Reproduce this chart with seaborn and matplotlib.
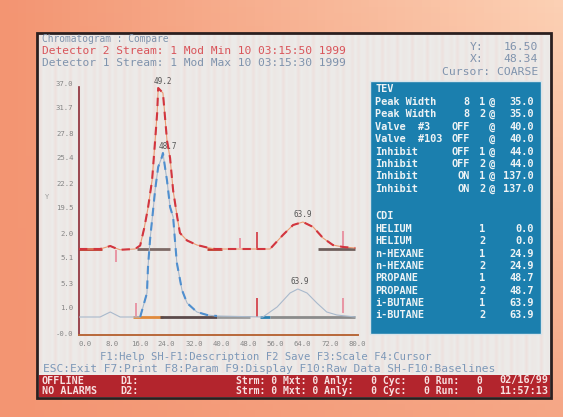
import numpy as np
import matplotlib
matplotlib.use("Agg")
from matplotlib import pyplot as plt
from matplotlib.patches import Rectangle
import seaborn as sns

W, H = 563, 417
mono = "DejaVu Sans Mono"

# detector 2 (upper, red) trace, x in minutes, y in screen units
det2_x = [-1.8, 4.4, 5.9, 7.4, 8.8, 10.3, 14.7, 16.2, 17.4, 18.5, 19.7, 20.6, 21.2, 21.5,
          22.9, 24.1, 25.0, 25.9, 27.1, 27.9, 30.0, 32.9, 35.9, 38.2, 54.4, 58.2, 61.2,
          64.1, 67.1, 70.0, 72.9, 75.9, 79.5]
det2_y = [3.36, 3.36, 3.42, 3.48, 3.40, 3.33, 3.36, 3.50, 4.20, 5.00, 6.10, 7.70, 8.80, 9.80,
          9.60, 7.70, 7.00, 5.70, 4.64, 4.00, 3.70, 3.52, 3.42, 3.36, 3.36, 3.92, 4.32,
          4.44, 4.24, 3.80, 3.52, 3.44, 3.40]

# detector 1 (lower, blue) trace
det1_x = [-1.8, 4.4, 7.4, 10.3, 16.2, 18.2, 18.5, 19.1, 19.7, 20.6, 21.5, 22.6, 22.9, 23.5,
          24.1, 25.0, 25.9, 26.5, 27.0, 28.5, 30.0, 32.9, 35.9, 38.8, 52.3, 56.5, 60.3,
          62.6, 65.3, 68.2, 71.1, 74.1, 79.5]
det1_y = [0.64, 0.64, 0.84, 0.64, 0.64, 1.60, 2.64, 3.72, 4.52, 5.72, 6.64, 7.04, 7.20, 6.64,
          6.10, 5.04, 4.64, 3.60, 2.80, 1.72, 1.20, 0.84, 0.72, 0.68, 0.64, 1.04, 1.60,
          1.76, 1.60, 1.20, 0.84, 0.72, 0.64]

# peak labels
peak_lbl = ["49.2", "48.7", "63.9", "63.9"]
peak_lx = [22.9, 24.4, 64.1, 63.2]
peak_ly = [10.05, 7.45, 4.75, 2.05]

# integration baselines
seg_x0 = [-1.8, 15.3, 35.9, 68.5, 14.1, 22.1, 38.8, 51.5, 54.4]
seg_x1 = [5.0, 25.0, 40.3, 79.4, 22.9, 38.8, 48.5, 54.4, 79.4]
seg_y = [3.36, 3.36, 3.36, 3.36, 0.64, 0.64, 0.64, 0.64, 0.64]
seg_col = ["#c0392b", "#7d6a66", "#c0392b", "#6f5f5c", "#e08a3c", "#5b4a4a", "#9a9a9a",
           "#2a7fb0", "#8b8b8b"]

# peak start / stop markers
mark_x = [9.1, 15.0, 45.6, 50.6, 50.6, 75.9, 75.9]
mark_y0 = [2.84, 0.64, 3.40, 3.32, 0.64, 3.44, 0.80]
mark_y1 = [3.32, 1.20, 3.80, 4.04, 1.40, 4.10, 1.40]
mark_col = ["#e8889a", "#e8889a", "#e8889a", "#d2353f", "#d2353f", "#e8889a", "#e8889a"]

x_ticks = [0, 8, 16, 24, 32, 40, 48, 56, 64, 72, 80]
x_labels = ["0.0", "8.0", "16.0", "24.0", "32.0", "40.0", "48.0", "56.0", "64.0", "72.0", "80.0"]
y_ticks = list(range(11))
y_labels = ["-0.0", "1.0", "5.3", "5.1", "2.0", "19.5", "22.2", "25.4", "27.8", "31.7", "37.0"]

# TEV table
tev_name = ["Peak Width", "Peak Width", "Valve  #3", "Valve  #103", "Inhibit", "Inhibit",
            "Inhibit", "Inhibit"]
tev_state = ["8", "8", "OFF", "OFF", "OFF", "OFF", "ON", "ON"]
tev_strm = ["1", "2", "", "", "1", "2", "1", "2"]
tev_val = ["35.0", "35.0", "40.0", "40.0", "44.0", "44.0", "137.0", "137.0"]

# CDI table
cdi_name = ["HELIUM", "HELIUM", "n-HEXANE", "n-HEXANE", "PROPANE", "PROPANE",
            "i-BUTANE", "i-BUTANE"]
cdi_strm = ["1", "2", "1", "2", "1", "2", "1", "2"]
cdi_val = ["0.0", "0.0", "24.9", "24.9", "48.7", "48.7", "63.9", "63.9"]

sns.set_theme(style="white")
plt.rcParams["font.family"] = [mono, "DejaVu Sans"]

fig = plt.figure(figsize=(W / 100, H / 100), dpi=100)
fig.patch.set_facecolor("#f6a07c")

# screen canvas in pixel units
scr = fig.add_axes([0, 0, 1, 1])
scr.set_xlim(0, W)
scr.set_ylim(H, 0)
scr.axis("off")
grad = np.linspace(0, 1, 64)[None, :] * np.linspace(0.3, 1, 64)[:, None][::-1]
scr.imshow(grad, extent=[0, W, H, 0], cmap=sns.blend_palette(["#f39572", "#fcd0b4"], as_cmap=True),
           aspect="auto", zorder=0)
scr.add_patch(Rectangle((37, 33), 514, 365, fc="#ecebe9", ec="#2b1f1f", lw=2.0, zorder=1))
# faint vertical scan stripes of the photographed screen
stripes = (np.cos(np.arange(170) * 1.9) ** 6)[None, :]
scr.imshow(stripes, extent=[39, 549, 373, 35], aspect="auto", alpha=0.25, zorder=1.2,
           cmap=sns.blend_palette(["#ecebe9", "#f4c6c0"], as_cmap=True))

# header
hc = "#7f93ad"
scr.text(42, 39, "Chromatogram : Compare", color=hc, fontsize=6.9, va="center", zorder=3)
scr.text(42, 50.5, "Detector 2 Stream: 1 Mod Min 10 03:15:50 1999", color="#d9545a",
         fontsize=8.1, va="center", zorder=3)
scr.text(42, 62.5, "Detector 1 Stream: 1 Mod Max 10 03:15:30 1999", color=hc, fontsize=8.1,
         va="center", zorder=3)
scr.text(470, 47, "Y:", color=hc, fontsize=8.2, va="center", zorder=3)
scr.text(538, 47, "16.50", color=hc, fontsize=8.2, va="center", ha="right", zorder=3)
scr.text(470, 59, "X:", color=hc, fontsize=8.2, va="center", zorder=3)
scr.text(538, 59, "48.34", color=hc, fontsize=8.2, va="center", ha="right", zorder=3)
scr.text(538, 72, "Cursor: COARSE", color=hc, fontsize=8.2, va="center", ha="right", zorder=3)

# right table panel
scr.add_patch(Rectangle((370, 81), 171, 253, fc="#1b7fae", ec="#d8e4ea", lw=1.0, zorder=2))
tc = "#eef3f5"
kw = dict(color=tc, fontsize=7.4, fontweight="bold", va="center", zorder=3)
scr.text(375, 89, "TEV", **kw)
for i in range(len(tev_name)):
    yy = 102 + i * 12.4
    scr.text(375, yy, tev_name[i], **kw)
    scr.text(470, yy, tev_state[i], ha="right", **kw)
    scr.text(479, yy, tev_strm[i], **kw)
    scr.text(489, yy, "@", **kw)
    scr.text(534, yy, tev_val[i], ha="right", **kw)
scr.text(375, 216, "CDI", **kw)
for i in range(len(cdi_name)):
    yy = 229 + i * 12.3
    scr.text(375, yy, cdi_name[i], **kw)
    scr.text(479, yy, cdi_strm[i], **kw)
    scr.text(534, yy, cdi_val[i], ha="right", **kw)

# function keys and status bar
fc_ = "#7d98b8"
scr.text(100, 357, "F1:Help SH-F1:Description F2 Save F3:Scale F4:Cursor", color=fc_,
         fontsize=7.6, va="center", zorder=3)
scr.text(43, 369.5, "ESC:Exit F7:Print F8:Param F9:Display F10:Raw Data SH-F10:Baselines",
         color=fc_, fontsize=8.1, va="center", zorder=3)
scr.add_patch(Rectangle((39, 375), 511, 22, fc="#b3252d", ec="none", zorder=2))
sk = dict(color="#f7e0e0", fontsize=7.3, fontweight="bold", va="center", zorder=3)
scr.text(42, 380.5, "OFFLINE", **sk)
scr.text(42, 391.5, "NO ALARMS", **sk)
scr.text(120, 380.5, "D1:", **sk)
scr.text(120, 391.5, "D2:", **sk)
for yy in (380.5, 391.5):
    scr.text(236, yy, "Strm: 0 Mxt: 0 Anly:   0 Cyc:   0 Run:   0",
             **dict(sk, fontsize=7.0))
scr.text(548, 380.5, "02/16/99", ha="right", **sk)
scr.text(548, 391.5, "11:57:13", ha="right", **sk)
scr.text(45, 197, "Y", color="#9a9a9a", fontsize=5, va="center", zorder=3)

# chromatogram axes
ax = fig.add_axes([79 / W, 1 - 335 / H, (358 - 79) / W, (335 - 79) / H])
ax.patch.set_alpha(0)
ax.set_xlim(-1.8, 80.3)
ax.set_ylim(-0.08, 10.16)

for i in range(len(seg_x0)):
    ax.hlines(seg_y[i], seg_x0[i], seg_x1[i], color=seg_col[i], lw=2.0, zorder=2)
ax.vlines(mark_x, mark_y0, mark_y1, colors=mark_col, lw=1.2, zorder=2)

sns.lineplot(x=det2_x, y=det2_y, ax=ax, color="#ec9a72", lw=0.8, zorder=3)
sns.lineplot(x=det2_x, y=det2_y, ax=ax, color="#d2353f", lw=1.5,
             linestyle=(0, (4, 3)), zorder=4)
sns.lineplot(x=det1_x, y=det1_y, ax=ax, color="#a9b9cc", lw=0.8, zorder=3)
sns.lineplot(x=det1_x[4:24], y=det1_y[4:24], ax=ax, color="#4f8fcf", lw=1.5,
             linestyle=(0, (4, 3)), zorder=4)

for i in range(len(peak_lbl)):
    ax.text(peak_lx[i], peak_ly[i], peak_lbl[i], fontsize=5.5, color="#555555",
            ha="center", va="center", zorder=5)

ax.set_xticks(x_ticks)
ax.set_xticklabels(x_labels)
ax.set_yticks(y_ticks)
ax.set_yticklabels(y_labels)
ax.tick_params(axis="both", direction="out", length=2.5, width=1.0, color="#e0803a",
               labelsize=5.2, labelcolor="#858585", pad=1.5)
sns.despine(ax=ax)
ax.spines["left"].set_color("#8c2b36")
ax.spines["left"].set_linewidth(1.2)
ax.spines["left"].set_bounds(-0.08, 9.85)
ax.spines["bottom"].set_color("#b8683a")
ax.spines["bottom"].set_linewidth(1.4)
ax.grid(False)

fig.savefig("out.png", dpi=100, facecolor=fig.get_facecolor())
